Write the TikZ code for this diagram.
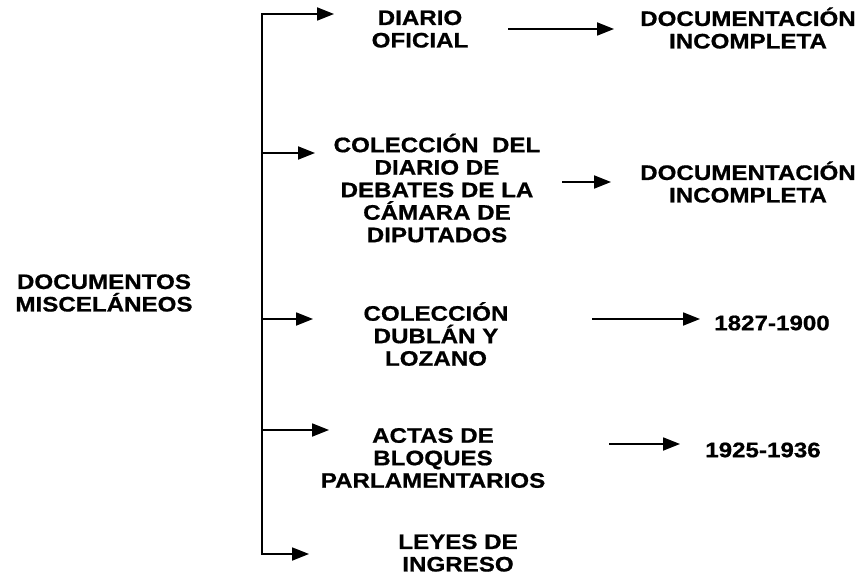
\documentclass[tikz,border=0pt]{standalone}
\usepackage{fontspec}
\newfontfamily\lab{Liberation Sans}[FakeStretch=1.15,FakeBold=0.8]
\usetikzlibrary{arrows.meta}
\begin{document}
\begin{tikzpicture}[x=1pt,y=-1pt,
  txt/.style={font=\lab\bfseries\fontsize{21}{22.5}\selectfont, align=center, inner sep=0pt},
  conn/.style={line width=1.8pt},
  arr/.style={line width=1.8pt, -{Triangle[length=17pt,width=13pt]}}]
\useasboundingbox (0,0) rectangle (866,577);
% nodes
\node[txt] (root) at (104,293) {DOCUMENTOS\\MISCELÁNEOS};
\node[txt] (n1) at (420,29) {DIARIO\\OFICIAL};
\node[txt] (n2) at (437,188) {COLECCIÓN~~DEL\\DIARIO DE\\DEBATES DE LA\\CÁMARA DE\\DIPUTADOS};
\node[txt] (n3) at (436,334) {COLECCIÓN\\DUBLÁN Y\\LOZANO};
\node[txt] (n4) at (433,458) {ACTAS DE\\BLOQUES\\PARLAMENTARIOS};
\node[txt] (n5) at (458,553) {LEYES DE\\INGRESO};
\node[txt] (r1) at (748,28) {DOCUMENTACIÓN\\INCOMPLETA};
\node[txt] (r2) at (748,182) {DOCUMENTACIÓN\\INCOMPLETA};
\node[txt] (r3) at (772,323) {1827-1900};
\node[txt] (r4) at (763,450) {1925-1936};
% bracket
\coordinate (b1) at (262,14);
\coordinate (b2) at (262,153);
\coordinate (b3) at (262,319);
\coordinate (b4) at (262,430);
\coordinate (b5) at (262,554);
\coordinate (t1) at (334,14);
\coordinate (t2) at (315,153);
\coordinate (t3) at (313,319);
\coordinate (t4) at (329,430);
\coordinate (t5) at (309,554);
\draw[conn, line cap=rect] (b1) -- (b5);
\draw[arr] (b1) -- (t1);
\draw[arr] (b2) -- (t2);
\draw[arr] (b3) -- (t3);
\draw[arr] (b4) -- (t4);
\draw[arr] (b5) -- (t5);
% right arrows
\coordinate (s1) at (508,29);  \coordinate (e1) at (614,29);
\coordinate (s2) at (562,182); \coordinate (e2) at (611,182);
\coordinate (s3) at (592,319); \coordinate (e3) at (700,319);
\coordinate (s4) at (609,444); \coordinate (e4) at (680,444);
\draw[arr] (s1) -- (e1);
\draw[arr] (s2) -- (e2);
\draw[arr] (s3) -- (e3);
\draw[arr] (s4) -- (e4);
\end{tikzpicture}
\end{document}
